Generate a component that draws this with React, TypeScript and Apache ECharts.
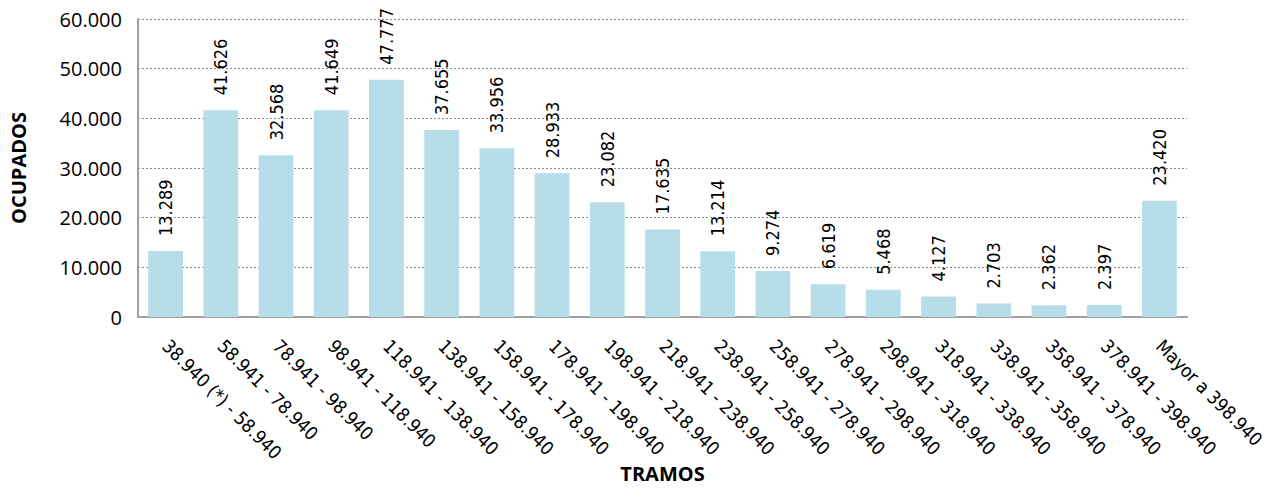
import React, { useEffect, useRef } from "react";
import * as echarts from "echarts";

const categories = [
  "38.940 (*) - 58.940",
  "58.941 - 78.940",
  "78.941 - 98.940",
  "98.941 - 118.940",
  "118.941 - 138.940",
  "138.941 - 158.940",
  "158.941 - 178.940",
  "178.941 - 198.940",
  "198.941 - 218.940",
  "218.941 - 238.940",
  "238.941 - 258.940",
  "258.941 - 278.940",
  "278.941 - 298.940",
  "298.941 - 318.940",
  "318.941 - 338.940",
  "338.941 - 358.940",
  "358.941 - 378.940",
  "378.941 - 398.940",
  "Mayor a 398.940",
];

const ocupados = [
  13289, 41626, 32568, 41649, 47777, 37655, 33956, 28933, 23082, 17635, 13214,
  9274, 6619, 5468, 4127, 2703, 2362, 2397, 23420,
];

const yMin = 0;
const yMax = 60000;
const yInterval = 10000;

const xAxisName = "TRAMOS";
const yAxisName = "OCUPADOS";

function fmtMiles(v: number): string {
  return String(Math.round(v)).replace(/\B(?=(\d{3})+(?!\d))/g, ".");
}

export default function App() {
  const ref = useRef<HTMLDivElement>(null);

  useEffect(() => {
    document.body.style.margin = "0";
    if (!ref.current) return;
    const chart = echarts.init(ref.current, undefined, { renderer: "svg" });
    const labelFont = "'DejaVu Sans Condensed', 'Liberation Sans', sans-serif";
    const axisFont = "'Open Sans', 'Lato', sans-serif";
    chart.setOption({
      animation: false,
      backgroundColor: "#ffffff",
      grid: {
        left: 138,
        right: 90,
        top: 19,
        bottom: 171,
        containLabel: false,
        outerBoundsMode: "none",
      },
      xAxis: {
        type: "category",
        data: categories,
        name: xAxisName,
        nameLocation: "middle",
        nameGap: 146,
        nameMoveOverlap: false,
        nameTextStyle: {
          fontFamily: axisFont,
          fontWeight: "bold",
          fontSize: 20,
          lineHeight: 20,
          color: "#000",
        },
        axisLine: { show: true, lineStyle: { color: "#a0a0a0", width: 2 } },
        axisTick: { show: false },
        axisLabel: {
          interval: 0,
          rotate: -45,
          margin: 26,
          fontFamily: labelFont,
          fontSize: 18.5,
          color: "#000",
        },
        splitLine: { show: false },
      },
      yAxis: {
        type: "value",
        min: yMin,
        max: yMax,
        interval: yInterval,
        name: yAxisName,
        nameLocation: "middle",
        nameGap: 110,
        nameMoveOverlap: false,
        nameTextStyle: {
          fontFamily: axisFont,
          fontWeight: "bold",
          fontSize: 20,
          color: "#000",
        },
        axisLine: { show: true, lineStyle: { color: "#a0a0a0", width: 2 } },
        axisTick: { show: false },
        axisLabel: {
          margin: 16,
          fontFamily: axisFont,
          fontSize: 20,
          color: "#000",
          formatter: (v: number) => fmtMiles(v),
        },
        splitLine: {
          show: true,
          lineStyle: { color: "#8c8c8c", type: [2, 2], width: 1 },
        },
      },
      series: [
        {
          type: "bar",
          data: ocupados,
          barCategoryGap: "37%",
          itemStyle: { color: "#b7dde8" },
          label: {
            show: true,
            position: "top",
            rotate: 90,
            align: "left",
            verticalAlign: "middle",
            distance: 15,
            fontFamily: labelFont,
            fontSize: 18,
            color: "#000",
            formatter: (p: any) => fmtMiles(p.value),
          },
        },
      ],
    });
    return () => chart.dispose();
  }, []);

  return (
    <div
      ref={ref}
      style={{ position: "absolute", left: 0, top: 0, width: 1277, height: 488 }}
    />
  );
}
